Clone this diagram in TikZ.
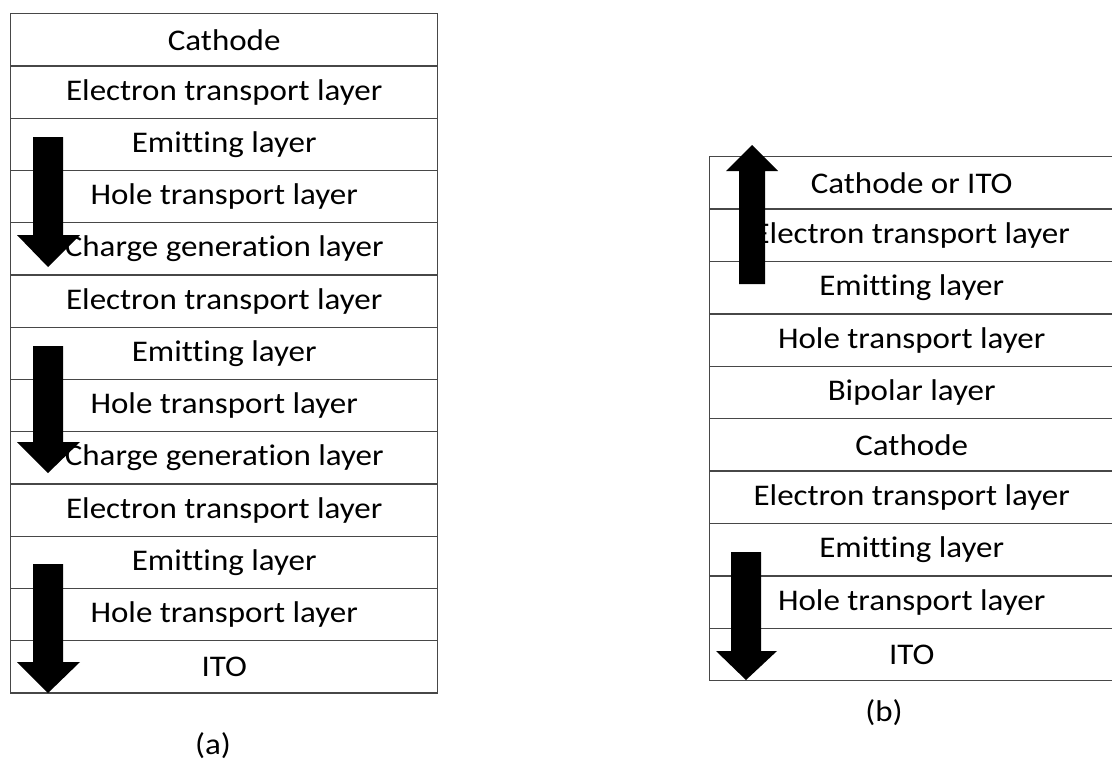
\documentclass[tikz,border=0pt]{standalone}
\usepackage{fontspec}
\setmainfont[FakeStretch=1.1, Ligatures=NoCommon]{Carlito}
\begin{document}
\begin{tikzpicture}[x=1pt,y=-1pt,
  layerbox/.style={draw=black!72, line width=1.4pt, minimum height=52.3pt, inner sep=0pt, anchor=north west, font=\fontsize{30}{32}\selectfont},
  bigarrow/.style={fill=black, draw=none},
  caption/.style={font=\fontsize{30}{32}\selectfont}]
\useasboundingbox (0,0) rectangle (1112,764);
% left stack
\foreach \t [count=\i from 0] in {Cathode, Electron transport layer, Emitting layer, Hole transport layer, Charge generation layer, Electron transport layer, Emitting layer, Hole transport layer, Charge generation layer, Electron transport layer, Emitting layer, Hole transport layer, ITO}
  \node[layerbox, minimum width=427pt] (a\i) at (10, 13+52.25*\i) {\t};
% right stack
\foreach \t [count=\i from 0] in {Cathode or ITO, Electron transport layer, Emitting layer, Hole transport layer, Bipolar layer, Cathode, Electron transport layer, Emitting layer, Hole transport layer, ITO}
  \node[layerbox, minimum width=404pt] (b\i) at (709, 156+52.4*\i) {\t};
% arrows (left)
\fill[bigarrow] (33,137) -- (63,137) -- (63,235) -- (80,235) -- (48,267) -- (17,235) -- (33,235) -- cycle;
\fill[bigarrow] (33,346) -- (63,346) -- (63,442) -- (80,442) -- (48,473) -- (17,442) -- (33,442) -- cycle;
\fill[bigarrow] (33,564) -- (63,564) -- (63,662) -- (80,662) -- (48,693) -- (17,662) -- (33,662) -- cycle;
% arrows (right)
\fill[bigarrow] (739,284) -- (765,284) -- (765,171) -- (778,171) -- (752,145) -- (726,171) -- (739,171) -- cycle;
\fill[bigarrow] (731,552) -- (761,552) -- (761,651) -- (777,651) -- (746,680) -- (716,651) -- (731,651) -- cycle;
% captions
\node[caption] (capa) at (213,746) {(a)};
\node[caption] (capb) at (884,713) {(b)};
\end{tikzpicture}
\end{document}
